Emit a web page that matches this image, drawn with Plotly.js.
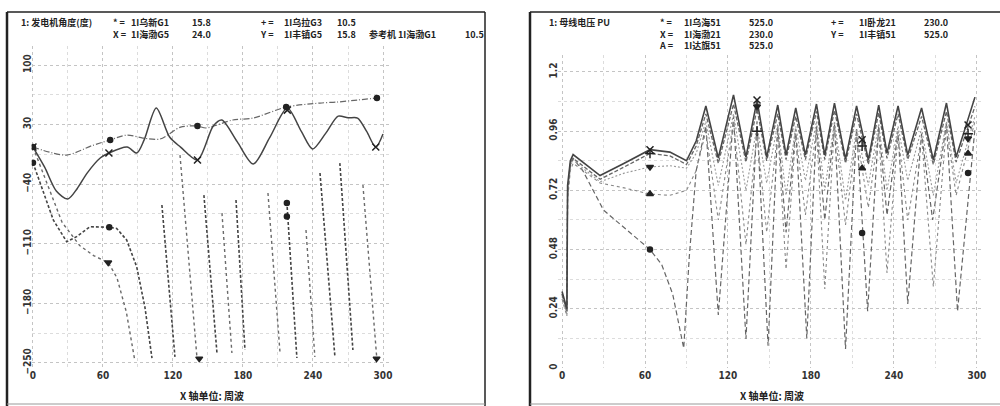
<!DOCTYPE html>
<html><head><meta charset="utf-8">
<script src="https://cdn.plot.ly/plotly-3.0.1.min.js"></script>
<style>html,body{margin:0;padding:0;background:#fff}#chart{width:1000px;height:406px}</style>
</head><body><div id="chart"></div>
<script>
// ---------- LEFT: 发电机角度(度) ----------
const leftXTicks = [0,60,120,180,240,300];
const leftYTicks = [-250,-180,-110,-40,30,100];
// X = 1I海渤G5 (solid)
const leftSolidT = [0,10,20,29.8,38,46.4,57.9,65.1,80.7,89,95.3,105.7,117.1,126.5,141,154.5,161.8,175,188.8,203,218,230,239.7,251,261.6,270,278.2,286,293.8,300];
const leftSolidV = [3.6,-20,-48,-57.5,-45,-27,-9,-3.4,3.6,-3.4,12,49.5,15.4,3.6,-11.6,28.3,35.4,10,-16.3,15,49.5,22,1.3,20,40,38,37.7,22,3.6,19];
// * = 1I乌新G1 (dash-dot, rising)
const leftTopT = [0,28.7,50,66.2,80.7,94.2,108.8,126.5,141,148.3,171.2,188.8,217,246,260.7,278.2,294.8];
const leftTopV = [3.6,-5.8,5,12,17.7,14.2,13,27,28.3,26,35.4,37.7,50.6,55.3,56.5,58.9,61.2];
// + = 1I乌拉G3 (dashed, pole slipping)
const leftPlusT = [0,17.4,28.9,37.4,48.8,65.4,71.7,80.3,88.9,96,102,null,110.5,121.7,null,146.5,157.7,null,174,181.7,null,217.6,226.2,null,246,258.8,null,263,274.2];
const leftPlusV = [-14.8,-82,-107.6,-101.7,-90,-90.7,-92,-105.6,-137,-185,-244.3,null,-64.5,-243,null,-52.8,-238.4,null,-58.6,-234.9,null,-61,-244.3,null,-26.9,-243,null,-15.2,-234.9];
// Y = 1I丰镇G5 (dotted, pole slipping)
const leftYT = [0,12,25,40,52,64.5,72,80,87,null,126,140.5,null,162,170.5,null,201.4,211.7,null,234,241.6,null,282.8,294.8];
const leftYV = [3.6,-40,-85,-112,-124,-132,-150,-190,-245,null,-5.8,-243,null,-74,-238.4,null,-50.4,-237.3,null,-93.9,-243,null,-41,-246.6];
// markers
const lMarkXT = [0,65.1,141,218,293.8],   lMarkXV = [3.6,-3.4,-11.6,47,3.6];
const lMarkStarT = [0,66.2,141,217,294.8], lMarkStarV = [3.6,12,28.3,50.6,61.2];
const lMarkPlusT = [0,65.4,217.6,217.6],  lMarkPlusV = [-14.8,-90.7,-62,-78];
const lMarkYT = [64.5,142.5,294.5],       lMarkYV = [-132,-245,-245];

// ---------- RIGHT: 母线电压 PU ----------
const rightXTicks = [0,60,120,180,240,300];
const rightYTicks = [0,0.24,0.48,0.72,0.96,1.2];
const rightYTickText = ['0','0.24','0.48','0.72','0.96','1.2'];
const tR = [0,2,3.5,4,6,8,15,27.5,45,63.6,78,90,97,104,113,124,133,141,148,156,162,169,176,184,190,197,205,213,221.5,229,235,243,250,260,268.5,278,285,298.6];
// X = 1I海渤21 (solid, top)
const rX = [0.31,0.27,0.24,0.74,0.84,0.865,0.835,0.78,0.83,0.885,0.875,0.84,0.92,1.062,0.851,1.107,0.855,1.086,0.855,1.066,0.863,1.054,0.863,1.07,0.863,1.074,0.847,1.062,0.843,1.066,0.871,1.062,0.863,1.054,0.843,1.074,0.855,1.098];
// + = 1I卧龙21 (dashed)
const rPlus = [0.30,0.26,0.23,0.72,0.83,0.85,0.82,0.765,0.815,0.87,0.86,0.825,0.9,1.03,0.83,1.07,0.835,1.05,0.84,1.03,0.845,1.02,0.845,1.04,0.845,1.045,0.83,1.03,0.825,1.035,0.85,1.03,0.845,1.02,0.825,1.04,0.835,1.06];
// Y = 1I丰镇51 (dotted)
const rY = [0.29,0.25,0.22,0.70,0.82,0.845,0.81,0.755,0.79,0.815,0.82,0.81,0.87,1.0,0.74,1.03,0.72,0.98,0.75,0.99,0.7,0.98,0.76,1.0,0.72,1.0,0.68,0.97,0.74,0.99,0.72,0.98,0.76,0.97,0.7,1.0,0.75,1.02];
// A = 1I达旗51 (dash-dot)
const rA = [0.28,0.24,0.21,0.68,0.8,0.83,0.8,0.75,0.73,0.705,0.70,0.72,0.8,0.96,0.6,1.0,0.5,0.95,0.55,0.96,0.40,0.95,0.62,0.97,0.32,0.98,0.58,0.95,0.65,0.96,0.385,0.95,0.6,0.94,0.33,0.98,0.7,1.0];
// * = 1I乌海51 (long dash, deep dips)
const tS = [0,2,3.5,4,6,8,15,30,45,63.6,72,80,88,92,97,104,113,124,133,141,149,156,162,169,177,184,190,197,205,213,221,229,235,243,250,260,268,278,286,298.6];
const rStar = [0.3,0.26,0.23,0.7,0.82,0.85,0.8,0.64,0.57,0.48,0.42,0.3,0.08,0.45,0.8,0.98,0.215,1.02,0.118,1.0,0.09,0.98,0.55,0.97,0.12,0.98,0.6,0.99,0.077,0.97,0.23,0.98,0.62,0.96,0.26,0.95,0.6,0.99,0.23,0.97];
const rMarkXT = [63.6,141,217,293.6],    rMarkXV = [0.885,1.086,0.925,0.985];
const rMarkPlusT = [63.6,141,217,293.6], rMarkPlusV = [0.87,0.96,0.9,0.95];
const rMarkYT = [63.6,141,293.6],        rMarkYV = [0.815,1.06,0.93];
const rMarkAT = [63.6,217,293.6],        rMarkAV = [0.705,0.81,0.87];
const rMarkStarT = [63.6,217,293.6],     rMarkStarV = [0.48,0.547,0.79];

// header texts
const leftTitle = '1: 发电机角度(度)';
const leftSyms1 = ['*','X'], leftNames1 = ['1I乌新G1','1I海渤G5'], leftVals1 = ['15.8','24.0'];
const leftSyms2 = ['+','Y'], leftNames2 = ['1I乌拉G3','1I丰镇G5'], leftVals2 = ['10.5','15.8'];
const leftRef = ['参考机 1I海渤G1','10.5'];
const rightTitle = '1: 母线电压 PU';
const rightSyms1 = ['*','X','A'], rightNames1 = ['1I乌海51','1I海渤21','1I达旗51'], rightVals1 = ['525.0','230.0','525.0'];
const rightSyms2 = ['+','Y'], rightNames2 = ['1I卧龙21','1I丰镇51'], rightVals2 = ['230.0','525.0'];
const xTitle = 'X 轴单位: 周波';

// ---------- build ----------
const W = 1000, H = 406;
const px = p => p / W, py = p => 1 - p / H;
const CJK = 'Noto Sans CJK SC, DejaVu Sans, sans-serif';

function line(x, y, xa, ya, color, width, dash, shape) {
  return {x, y, xaxis: xa, yaxis: ya, type: 'scatter', mode: 'lines', connectgaps: false,
    line: {color, width, dash, shape: shape || 'linear', smoothing: 0.8}, hoverinfo: 'skip'};
}
function marks(x, y, xa, ya, symbol, size) {
  return {x, y, xaxis: xa, yaxis: ya, type: 'scatter', mode: 'markers', hoverinfo: 'skip',
    marker: {symbol, size, color: '#222', line: {color: '#222', width: 1.5}}};
}

const data = [
  line(leftTopT, leftTopV, 'x', 'y', '#666', 1.2, '6px,2px,1px,2px', 'spline'),
  line(leftYT, leftYV, 'x', 'y', '#6a6a6a', 1.4, 'dot'),
  line(leftPlusT, leftPlusV, 'x', 'y', '#444', 1.6, '3px,2px'),
  line(leftSolidT, leftSolidV, 'x', 'y', '#444', 1.5, 'solid', 'spline'),
  marks(lMarkXT, lMarkXV, 'x', 'y', 'x-thin', 7),
  marks(lMarkStarT, lMarkStarV, 'x', 'y', 'circle', 5),
  marks(lMarkPlusT, lMarkPlusV, 'x', 'y', 'circle', 5),
  marks(lMarkYT, lMarkYV, 'x', 'y', 'triangle-down', 6),

  line(tS, rStar, 'x2', 'y2', '#666', 1.2, '5px,3px'),
  line(tR, rA, 'x2', 'y2', '#888', 1.1, 'dot'),
  line(tR, rY, 'x2', 'y2', '#999', 1.1, '2px,2px'),
  line(tR, rPlus, 'x2', 'y2', '#666', 1.3, '4px,2px'),
  line(tR, rX, 'x2', 'y2', '#444', 1.6, 'solid'),
  marks(rMarkXT, rMarkXV, 'x2', 'y2', 'x-thin', 7),
  marks(rMarkPlusT, rMarkPlusV, 'x2', 'y2', 'cross-thin', 7),
  marks(rMarkYT, rMarkYV, 'x2', 'y2', 'triangle-down', 6),
  marks(rMarkAT, rMarkAV, 'x2', 'y2', 'triangle-up', 6),
  marks(rMarkStarT, rMarkStarV, 'x2', 'y2', 'circle', 5)
];

const tickFont = {family: 'DejaVu Sans Condensed, DejaVu Sans, sans-serif', size: 10, color: '#333', weight: 'bold'};
const gridCommon = {showline: false, zeroline: false, ticks: '', showgrid: true,
  gridcolor: '#c4c4c4', griddash: 'dot', gridwidth: 1, tickfont: tickFont, fixedrange: true};

const layout = {
  width: W, height: H, margin: {l: 0, r: 0, t: 0, b: 0},
  paper_bgcolor: '#fff', plot_bgcolor: 'rgba(0,0,0,0)', showlegend: false,
  xaxis: Object.assign({}, gridCommon, {domain: [px(31.8), px(390)], range: [-1, 306], anchor: 'y',
    tickmode: 'array', tickvals: leftXTicks, minor: {tickvals: [30,90,150,210,270], showgrid: true, gridcolor: '#dcdcdc', griddash: 'dot'}}),
  yaxis: Object.assign({}, gridCommon, {domain: [py(368), py(46.3)], range: [-256, 122], anchor: 'x',
    tickmode: 'array', tickvals: leftYTicks, tickangle: -90, ticklabelstandoff: -2,
    minor: {tickvals: [-215,-145,-75,-5,65], showgrid: true, gridcolor: '#dcdcdc', griddash: 'dot'}}),
  xaxis2: Object.assign({}, gridCommon, {domain: [px(557.9), px(983.8)], range: [-3, 305], anchor: 'y2',
    tickmode: 'array', tickvals: rightXTicks, minor: {tickvals: [30,90,150,210,270], showgrid: true, gridcolor: '#dcdcdc', griddash: 'dot'}}),
  yaxis2: Object.assign({}, gridCommon, {domain: [py(368), py(54.7)], range: [0, 1.27], anchor: 'x2',
    tickmode: 'array', tickvals: rightYTicks, ticktext: rightYTickText, tickangle: -90, ticklabelstandoff: -2,
    minor: {tickvals: [0.12,0.36,0.6,0.84,1.08], showgrid: true, gridcolor: '#dcdcdc', griddash: 'dot'}}),
  shapes: [], annotations: []
};

// panel frames
function seg(x0, y0, x1, y1, w, c) {
  layout.shapes.push({type: 'line', xref: 'paper', yref: 'paper', x0: px(x0), y0: py(y0), x1: px(x1), y1: py(y1),
    line: {color: c || '#222', width: w}, layer: 'above'});
}
seg(7, 12, 7, 406, 2.5);
seg(7, 12, 485, 12, 1.5);
seg(485, 12, 485, 406, 1.5);
seg(7, 404, 485, 404, 1, '#999');
seg(530, 12, 530, 406, 2.5);
seg(530, 12, 1000, 12, 1.5);
seg(530, 404, 1000, 404, 1, '#999');

const HF = 9;
function block(lines, x, yTop, anchor) {
  layout.annotations.push({text: lines.join('<br>'), xref: 'paper', yref: 'paper', x: px(x), y: py(yTop - HF * 0.75),
    xanchor: anchor || 'left', yanchor: 'top', align: 'left', showarrow: false,
    font: {family: CJK, size: HF, color: '#222', weight: 'bold'}});
}
// left header
block([leftTitle], 19, 21);
block(leftSyms1.map(s => s + ' ='), 111, 21);
block(leftNames1, 129, 21);
block(leftVals1, 190, 21);
block(leftSyms2.map(s => s + ' ='), 258, 21);
block(leftNames2, 282, 21);
block(leftVals2, 335, 21);
block([leftRef[0]], 367, 21 + HF * 1.3);
block([leftRef[1]], 463, 21 + HF * 1.3);
// right header
block([rightTitle], 547, 21);
block(rightSyms1.map(s => s + ' ='), 657, 21);
block(rightNames1, 682, 21);
block(rightVals1, 747, 21);
block(rightSyms2.map(s => s + ' ='), 828, 21);
block(rightNames2, 857, 21);
block(rightVals2, 922, 21);
// axis titles
layout.annotations.push({text: xTitle, xref: 'paper', yref: 'paper', x: px(212), y: py(395), xanchor: 'center', yanchor: 'middle',
  showarrow: false, font: {family: CJK, size: 10, color: '#222', weight: 'bold'}});
layout.annotations.push({text: xTitle, xref: 'paper', yref: 'paper', x: px(772), y: py(395), xanchor: 'center', yanchor: 'middle',
  showarrow: false, font: {family: CJK, size: 10, color: '#222', weight: 'bold'}});

Plotly.newPlot('chart', data, layout, {staticPlot: true, displayModeBar: false});
</script></body></html>
